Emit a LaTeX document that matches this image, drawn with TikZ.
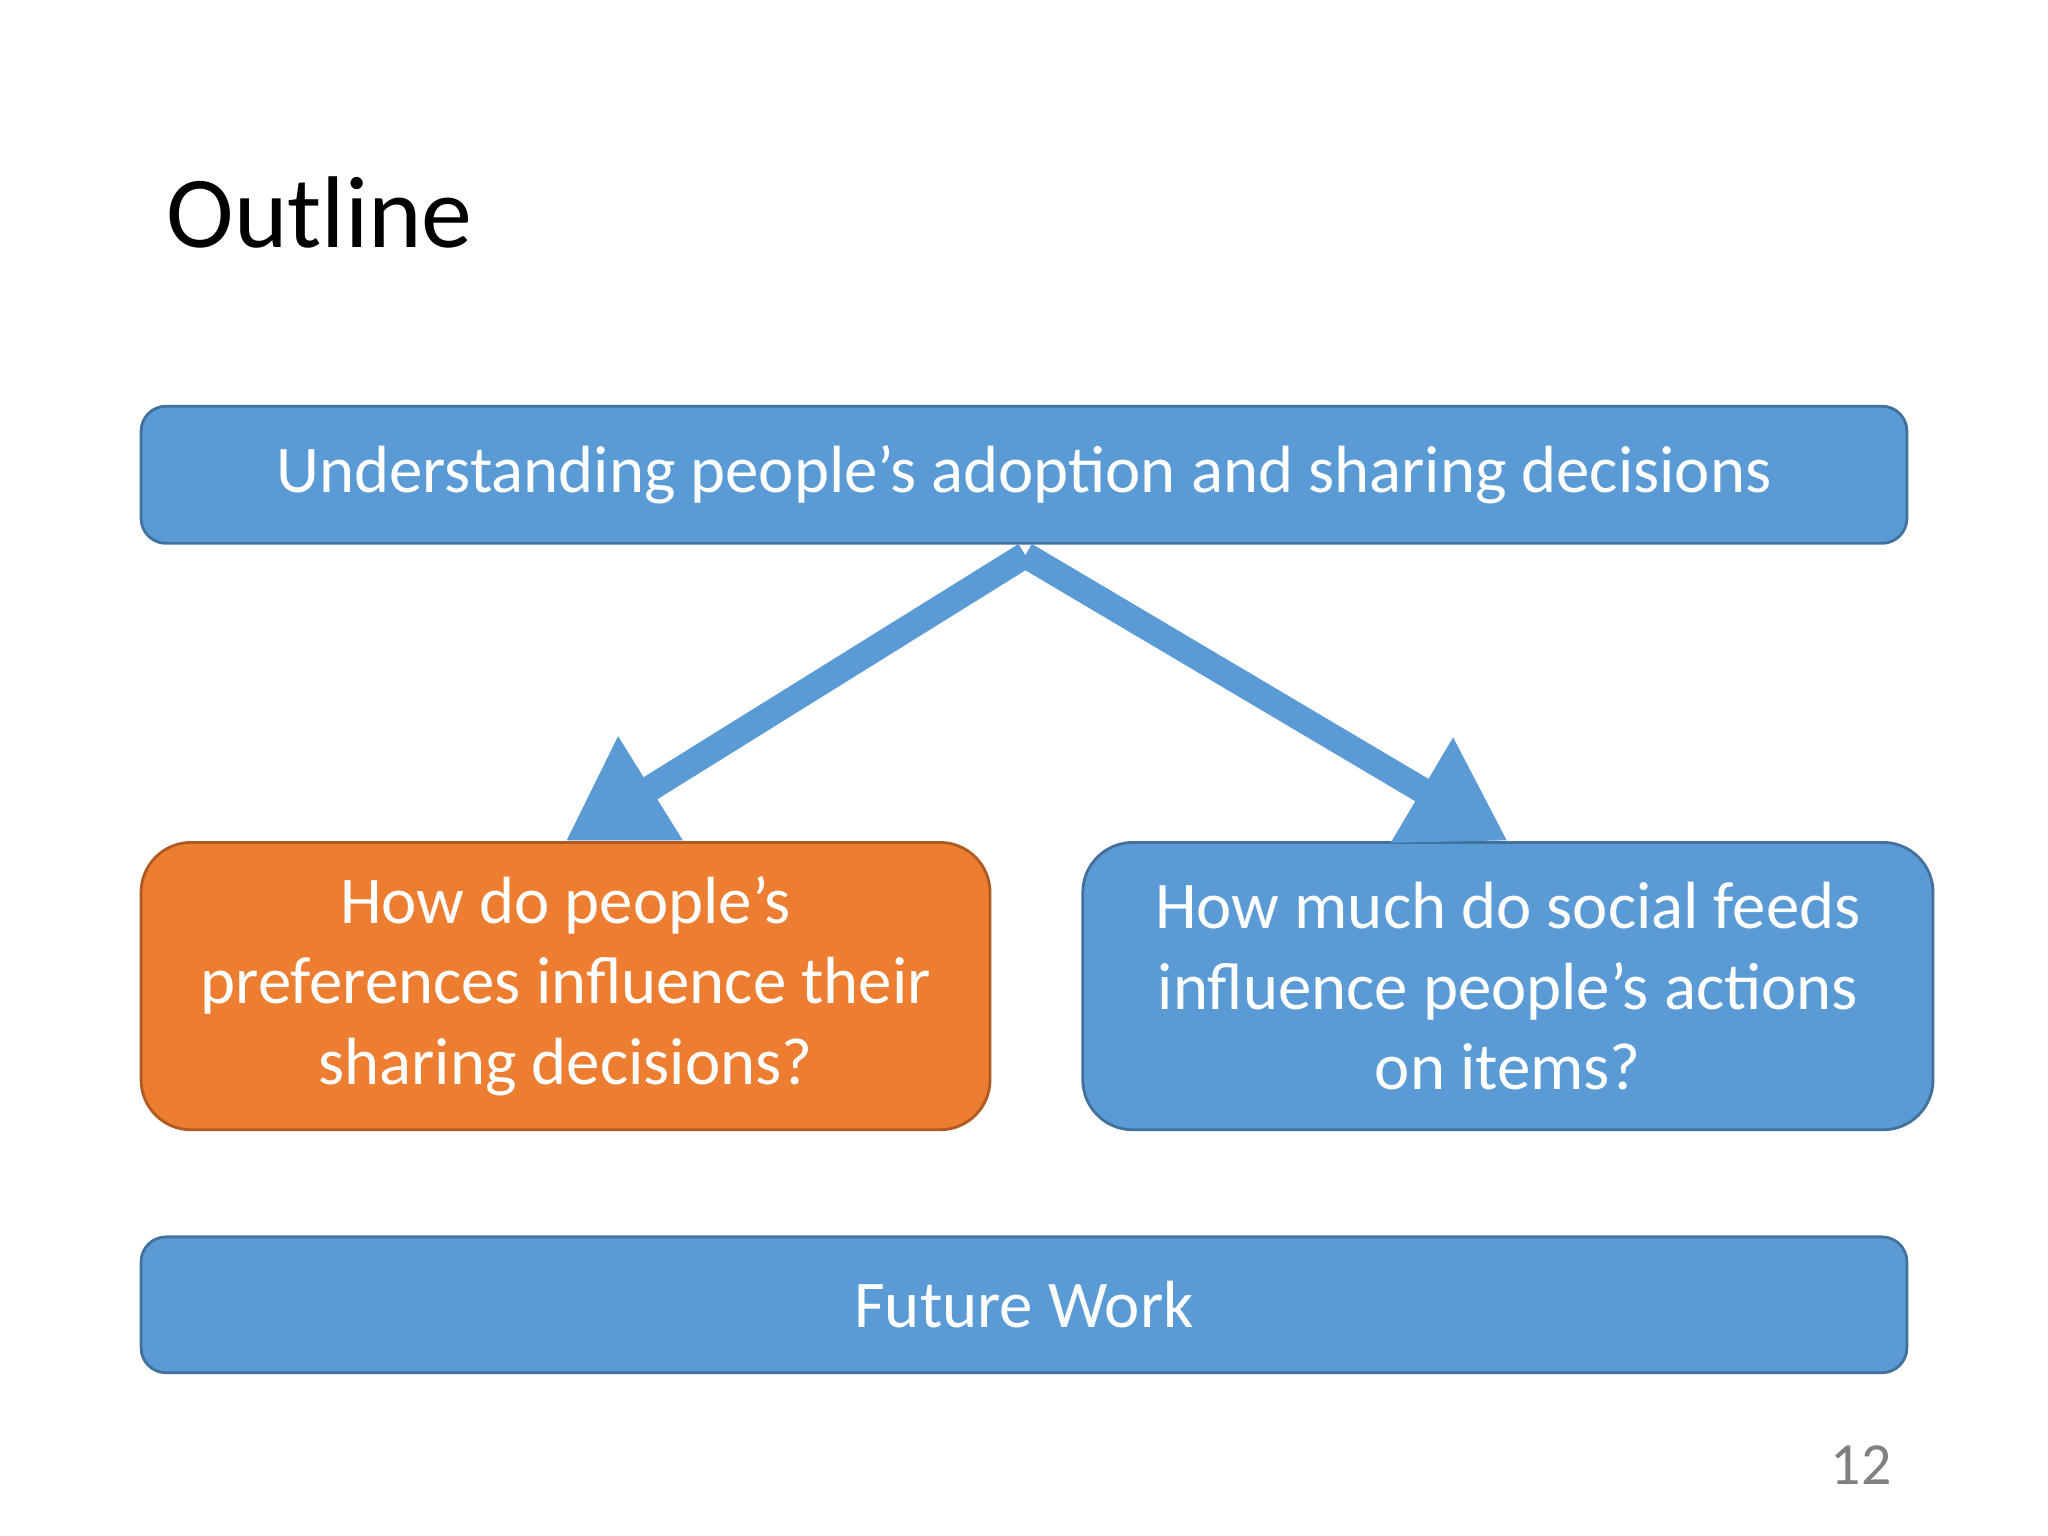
\documentclass[tikz,border=0pt]{standalone}
\usepackage{fontspec}
\setmainfont{Carlito}
\usetikzlibrary{arrows.meta}
\definecolor{bl}{HTML}{5B9BD5}
\definecolor{bld}{HTML}{41719C}
\definecolor{or}{HTML}{ED7D31}
\definecolor{ord}{HTML}{AE5A21}
\tikzset{
 box/.style={draw=bld, fill=bl, line width=0.8pt, text=white, font=\fontsize{19}{23}\selectfont, align=center, inner sep=0pt},
 arr/.style={draw=bl, line width=0.26cm, -{Triangle[length=1.0cm,width=1.15cm]}, shorten >=0pt}
}
\begin{document}
\begin{tikzpicture}[x=0.013061cm,y=-0.013061cm]
\useasboundingbox (0,0) rectangle (1568,1176);
\node[anchor=west, font=\fontsize{29}{34}\selectfont] (title) at (118,163) {Outline};
\node[box, rounded corners=0.25cm, minimum width=1352*0.013061cm, minimum height=105*0.013061cm] (top) at (784,363.5) {Understanding people’s adoption and sharing decisions};
\node[box, fill=or, draw=ord, rounded corners=0.5cm, minimum width=650*0.013061cm, minimum height=220*0.013061cm] (l) at (433,755) {How do people’s\\preferences influence their\\sharing decisions?};
\node[box, rounded corners=0.5cm, minimum width=651*0.013061cm, minimum height=220*0.013061cm] (r) at (1154.5,755) {How much do social feeds\\influence people’s actions\\on items?};
\node[box, rounded corners=0.25cm, minimum width=1352*0.013061cm, minimum height=104*0.013061cm] (fw) at (784,999) {Future Work};
\node[text=gray, font=\fontsize{17}{20}\selectfont] (pg) at (1425,1122) {12};
\coordinate (split) at (785,425);
\draw[arr] (split) -- (l.north);
\draw[arr] (split) -- (r.north);
\end{tikzpicture}
\end{document}
